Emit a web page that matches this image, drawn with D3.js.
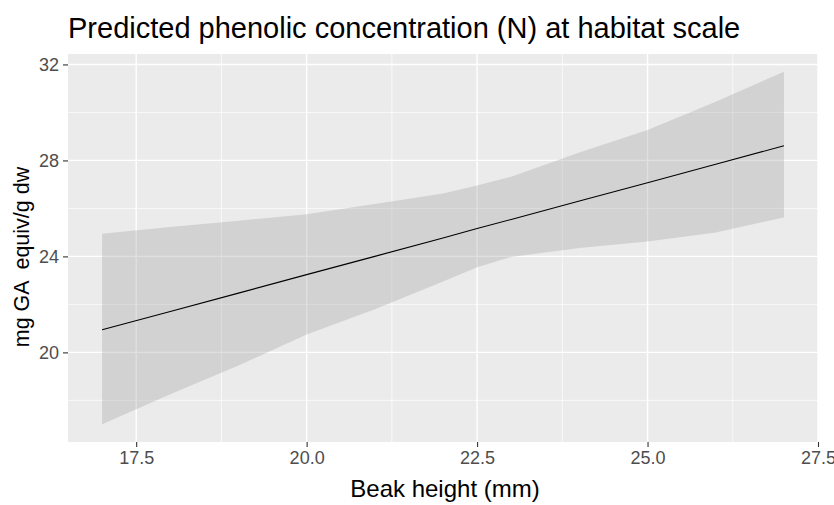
<!DOCTYPE html>
<html>
<head>
<meta charset="utf-8">
<script src="https://cdn.jsdelivr.net/npm/d3@7"></script>
<style>
  body { margin: 0; background: #fff; }
  text { font-family: "Liberation Sans", Arial, sans-serif; }
</style>
</head>
<body>
<script>
// values
var beak = [17, 18, 19, 20, 21, 22, 22.5, 23, 24, 25, 26, 27];
var predicted = [20.94, 21.70, 22.47, 23.24, 24.00, 24.77, 25.16, 25.54, 26.31, 27.07, 27.84, 28.61];
var lower = [17.00, 18.25, 19.45, 20.75, 21.80, 22.95, 23.55, 23.98, 24.35, 24.62, 25.00, 25.62];
var upper = [24.94, 25.22, 25.49, 25.76, 26.18, 26.62, 26.95, 27.32, 28.33, 29.27, 30.45, 31.70];

var xTicks = [17.5, 20.0, 22.5, 25.0, 27.5];
var xMinor = [18.75, 21.25, 23.75, 26.25];
var yTicks = [20, 24, 28, 32];
var yMinor = [18, 22, 26, 30];

const width = 834;
const height = 505;
const margin = {top: 54, right: 16, bottom: 63, left: 68};

var data = beak.map(function(d, i) {
    return {x: d, fit: predicted[i], lo: lower[i], hi: upper[i]};
});

// ggplot style 5% expansion
function expand(lo, hi) {
    var r = hi - lo;
    return [lo - r * 0.05, hi + r * 0.05];
}

var x = d3.scaleLinear()
    .domain(expand(d3.min(beak), d3.max(beak)))
    .range([margin.left, width - margin.right]);

var y = d3.scaleLinear()
    .domain(expand(d3.min(lower), d3.max(upper)))
    .range([height - margin.bottom, margin.top]);

var svg = d3.select("body").append("svg")
    .attr("width", width)
    .attr("height", height);

svg.append("rect")
    .attr("width", width)
    .attr("height", height)
    .attr("fill", "white");

// panel
svg.append("rect")
    .attr("x", margin.left)
    .attr("y", margin.top)
    .attr("width", width - margin.left - margin.right)
    .attr("height", height - margin.top - margin.bottom)
    .attr("fill", "#ebebeb");

var grid = svg.append("g");

grid.selectAll(".xminor").data(xMinor).enter().append("line")
    .attr("x1", d => x(d)).attr("x2", d => x(d))
    .attr("y1", margin.top).attr("y2", height - margin.bottom)
    .attr("stroke", "white").attr("stroke-width", 0.7);

grid.selectAll(".yminor").data(yMinor).enter().append("line")
    .attr("y1", d => y(d)).attr("y2", d => y(d))
    .attr("x1", margin.left).attr("x2", width - margin.right)
    .attr("stroke", "white").attr("stroke-width", 0.7);

grid.selectAll(".xmajor").data(xTicks).enter().append("line")
    .attr("x1", d => x(d)).attr("x2", d => x(d))
    .attr("y1", margin.top).attr("y2", height - margin.bottom)
    .attr("stroke", "white").attr("stroke-width", 1.4);

grid.selectAll(".ymajor").data(yTicks).enter().append("line")
    .attr("y1", d => y(d)).attr("y2", d => y(d))
    .attr("x1", margin.left).attr("x2", width - margin.right)
    .attr("stroke", "white").attr("stroke-width", 1.4);

// confidence band
var band = d3.area()
    .x(d => x(d.x))
    .y0(d => y(d.lo))
    .y1(d => y(d.hi));

svg.append("path")
    .datum(data)
    .attr("d", band)
    .attr("fill", "#999999")
    .attr("fill-opacity", 0.3);

var line = d3.line()
    .x(d => x(d.x))
    .y(d => y(d.fit));

svg.append("path")
    .datum(data)
    .attr("d", line)
    .attr("fill", "none")
    .attr("stroke", "black")
    .attr("stroke-width", 1.1);

// axes
var xAxis = svg.append("g")
    .attr("transform", "translate(0," + (height - margin.bottom) + ")")
    .call(d3.axisBottom(x).tickValues(xTicks).tickFormat(d3.format(".1f")).tickSize(5).tickPadding(4));

var yAxis = svg.append("g")
    .attr("transform", "translate(" + margin.left + ",0)")
    .call(d3.axisLeft(y).tickValues(yTicks).tickSize(5).tickPadding(4));

[xAxis, yAxis].forEach(function(a) {
    a.select(".domain").remove();
    a.selectAll(".tick line").attr("stroke", "#333333").attr("stroke-width", 1.1);
    a.selectAll(".tick text")
        .attr("fill", "#4d4d4d")
        .attr("font-size", 18)
        .attr("font-family", "Liberation Sans, Arial, sans-serif");
});

svg.append("text")
    .attr("x", 445)
    .attr("y", 497)
    .attr("text-anchor", "middle")
    .attr("font-size", 24)
    .attr("fill", "black")
    .text("Beak height (mm)");

svg.append("text")
    .attr("transform", "translate(29,257) rotate(-90)")
    .attr("text-anchor", "middle")
    .attr("font-size", 21.5)
    .attr("fill", "black")
    .text("mg GA  equiv/g dw")
    .style("white-space", "pre");

svg.append("text")
    .attr("x", 68)
    .attr("y", 38)
    .attr("font-size", 29)
    .attr("fill", "black")
    .text("Predicted phenolic concentration (N) at habitat scale");
</script>
</body>
</html>
